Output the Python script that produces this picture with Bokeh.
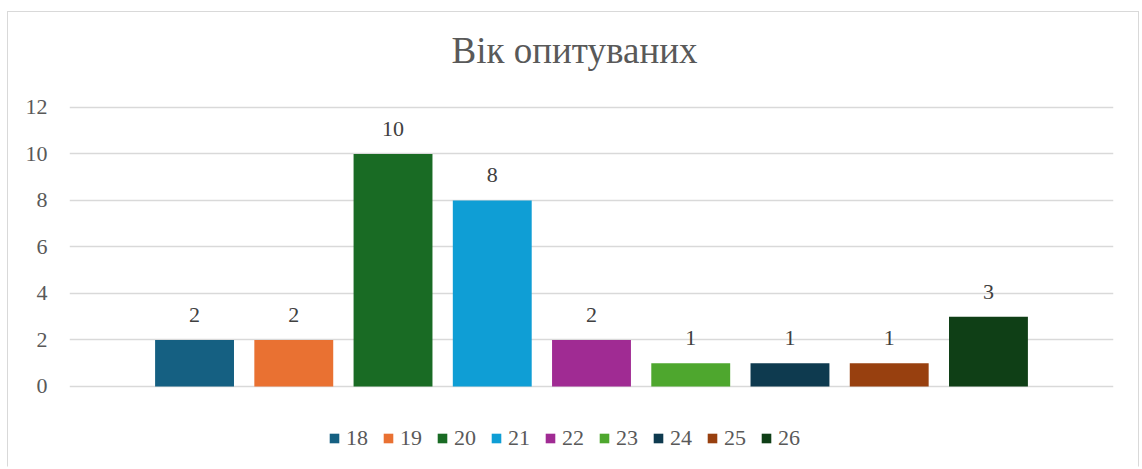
from bokeh.plotting import figure
from bokeh.models import ColumnDataSource, Range1d, FixedTicker, Label
from bokeh.core.properties import value
from bokeh.embed import file_html
from bokeh.resources import INLINE

title_text = "Вік опитуваних"
ages = ["18", "19", "20", "21", "22", "23", "24", "25", "26"]
counts = [2, 2, 10, 8, 2, 1, 1, 1, 3]
colors = ["#156082", "#E97132", "#196B24", "#0F9ED5", "#A02B93",
          "#4EA72E", "#0E3A4F", "#98400F", "#0F3F16"]
y_ticks = [0, 2, 4, 6, 8, 10, 12]

FONT = "Liberation Serif"

src = ColumnDataSource(dict(
    x=list(range(len(ages))),
    age=ages,
    count=counts,
    color=colors,
    label=[str(c) for c in counts],
))

# plot area spans the whole chart height; the value axis shows 0..12 only
p = figure(width=1132, height=456, output_backend="svg", toolbar_location=None,
           title=None, x_axis_location=None,
           x_range=Range1d(-1.26, len(ages) - 1 + 1.26),
           y_range=Range1d(-3.527, 16.086),
           min_border_left=61, min_border_right=27, min_border_top=0,
           min_border_bottom=0)
p.margin = (11, 0, 0, 7)
p.styles = {"border": "1px solid #d9d9d9", "border-bottom-color": "transparent"}
p.outline_line_color = None
p.background_fill_color = "white"
p.border_fill_color = "white"

p.vbar(x="x", top="count", width=0.795, bottom=0, source=src,
       fill_color="color", line_color=None, legend_field="age")

p.text(x="x", y="count", text="label", source=src, text_align="center",
       text_baseline="alphabetic", y_offset=-25, text_font=value(FONT),
       text_font_size="22px", text_color="#404040")

title = Label(x=505, y=418, x_units="screen", y_units="screen", text=title_text,
              text_font=FONT, text_font_size="37px", text_color="#595959",
              text_align="center", text_baseline="alphabetic")
p.add_layout(title)

for g in p.xgrid:
    g.visible = False
p.ygrid.grid_line_color = "#d9d9d9"
p.ygrid.grid_line_width = 1.5
p.yaxis.ticker = FixedTicker(ticks=y_ticks)
p.yaxis.axis_line_color = None
p.yaxis.major_tick_line_color = None
p.yaxis.minor_tick_line_color = None
p.yaxis.major_tick_out = 0
p.yaxis.major_label_standoff = 22
p.yaxis.major_label_text_font = FONT
p.yaxis.major_label_text_font_size = "22px"
p.yaxis.major_label_text_color = "#595959"

lg = p.legend[0]
lg.orientation = "horizontal"
lg.location = (259, 17)
lg.padding = 0
lg.margin = 0
lg.spacing = 14
lg.glyph_width = 12
lg.glyph_height = 12
lg.label_standoff = 6
lg.label_text_font = FONT
lg.label_text_font_size = "22px"
lg.label_text_color = "#595959"
lg.border_line_color = None
lg.background_fill_alpha = 0

open("out.html", "w").write(file_html(p, INLINE))
